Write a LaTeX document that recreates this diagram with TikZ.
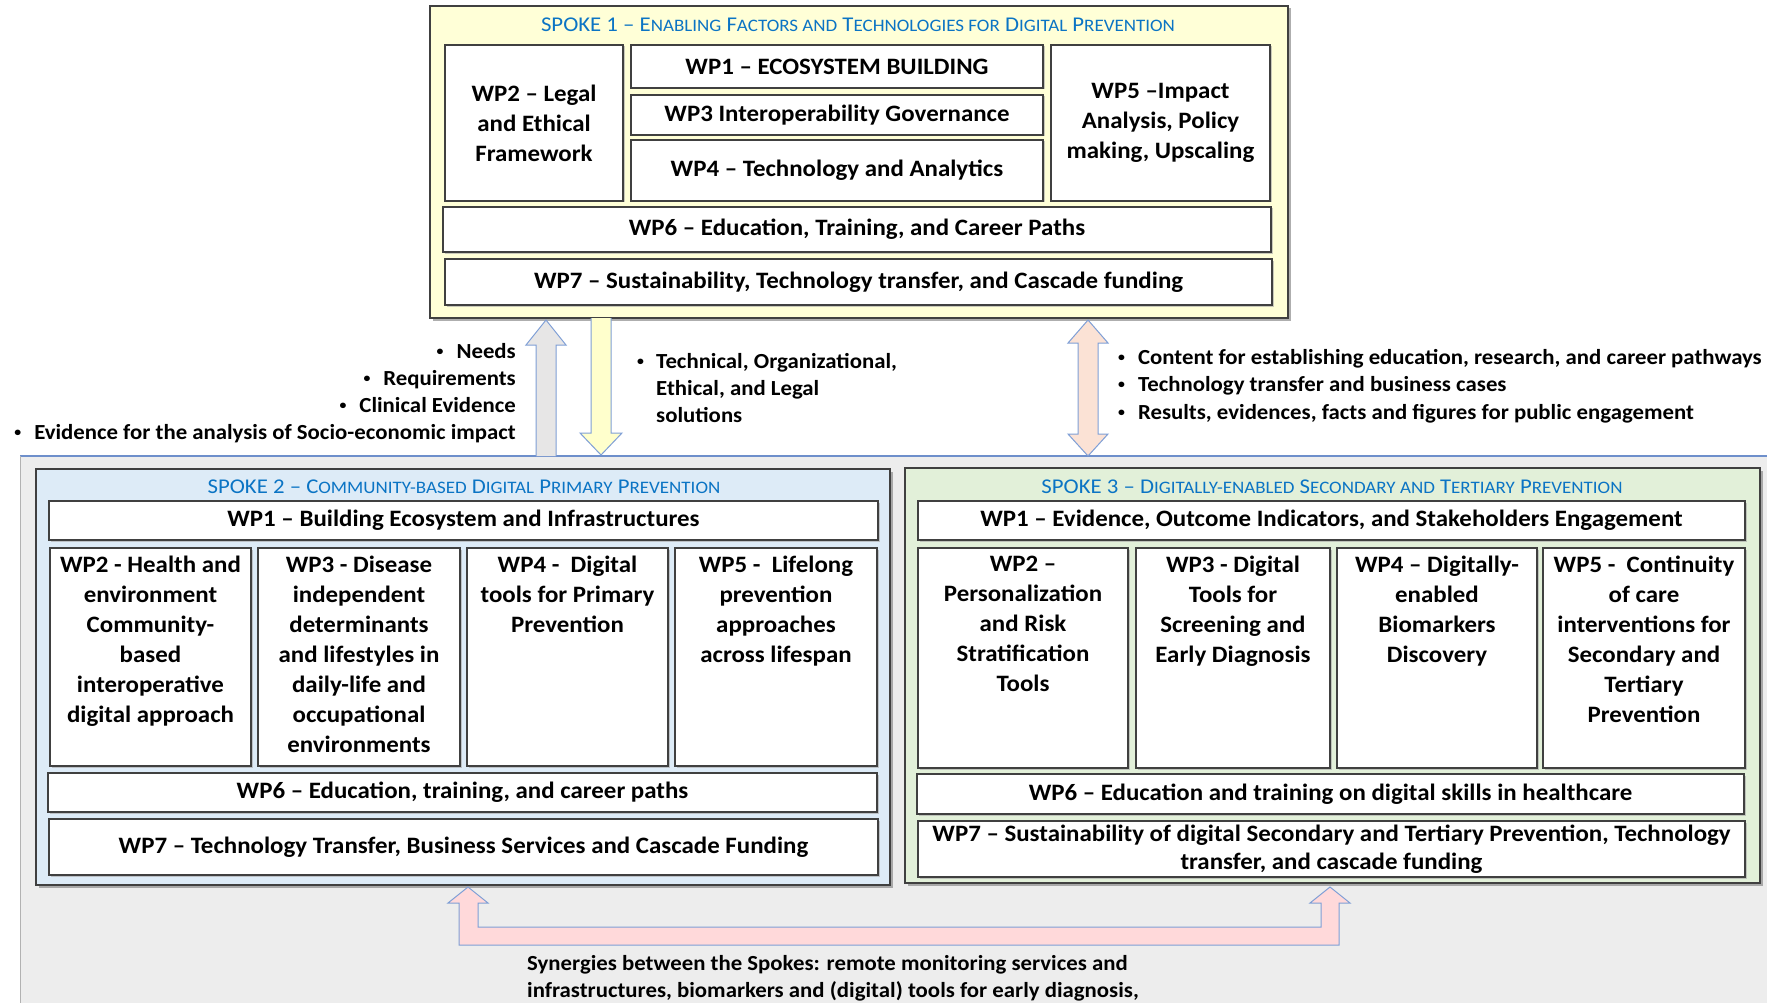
\documentclass[tikz,border=0pt]{standalone}
\usepackage{fontspec}
\setmainfont{Carlito}[FakeStretch=1.06]
\newfontfamily\ttlfam{Carlito}[FakeStretch=1.085]
\usetikzlibrary{shadows}
\definecolor{spokeA}{HTML}{FFFFD7}
\definecolor{spokeB}{HTML}{DDEBF7}
\definecolor{spokeC}{HTML}{E2F0D9}
\definecolor{bgray}{HTML}{EDEDED}
\definecolor{ttl}{HTML}{0B74C4}
\definecolor{edge}{HTML}{404040}
\definecolor{arrline}{HTML}{7F9FD6}
\definecolor{agray}{HTML}{E7E6E6}
\definecolor{ayel}{HTML}{FFFFCC}
\definecolor{apeach}{HTML}{FBE2D5}
\definecolor{apink}{HTML}{FFD9DA}
\definecolor{topline}{HTML}{6E8FCB}

\newcommand{\sk}[1]{{\fontsize{17.5}{17.5}\selectfont\MakeUppercase{#1}}}
\newcommand{\bu}{\raisebox{2.5pt}{\fontsize{13}{13}\selectfont •}}
\newcommand{\wpb}[6]{\node[wp, minimum width={(#4)-(#2)}, minimum height={(#5)-(#3)}] (#1) at ({((#2)+(#4))/2},{((#3)+(#5))/2}) {#6};}
\newcommand{\wpt}[6]{\node[wp, minimum width={(#4)-(#2)}, minimum height={(#5)-(#3)}] (#1) at ({((#2)+(#4))/2},{((#3)+(#5))/2}) {};
  \node[wptxt, anchor=north] (#1t) at ([yshift=-8pt]#1.north) {#6};}

\tikzset{
 spoke/.style={draw=edge, line width=1.3pt, inner sep=0pt, outer sep=0pt, drop shadow={shadow xshift=2.5pt, shadow yshift=-2.5pt, fill=black!45, opacity=0.7}},
 wp/.style={draw=edge, fill=white, line width=1.2pt, inner sep=0pt, outer sep=0pt, drop shadow={shadow xshift=1.5pt, shadow yshift=-1.5pt, fill=black!35, opacity=0.6}, font=\fontsize{23.5}{30}\selectfont\bfseries, align=center},
 wptxt/.style={font=\fontsize{23.5}{30}\selectfont\bfseries, align=center, inner sep=0pt},
 bul/.style={font=\fontsize{21.5}{27.5}\selectfont\bfseries, inner sep=0pt},
 ttlfont/.style={font=\ttlfam\fontsize{21}{21}\selectfont, text=ttl, inner sep=0pt},
 blockarrow/.style={draw=arrline, line width=1pt, line join=miter},
}

\begin{document}
\begin{tikzpicture}[x=1pt,y=-1pt]
\useasboundingbox[fill=white] (0,0) rectangle (1767,1003);

% background region
\fill[bgray] (20,456) rectangle (1767,1003);
\draw[topline, line width=1.2pt] (20,456) -- (1767,456);
\draw[black!30, line width=1pt] (20,456) -- (20,1003);

% ---------- SPOKE 1 ----------
\node[spoke, fill=spokeA, minimum width=858, minimum height=312] (s1) at (859,162) {};
\node[ttlfont] (s1title) at (858,25) {SPOKE 1 – E\sk{nabling} F\sk{actors and} T\sk{echnologies for} D\sk{igital} P\sk{revention}};
\wpb{s1wp2}{445}{45}{623}{201}{WP2 – Legal\\and Ethical\\Framework}
\wpb{s1wp1}{631}{45}{1043}{88}{WP1 – ECOSYSTEM BUILDING}
\wpb{s1wp3}{631}{95}{1043}{135}{WP3 Interoperability Governance}
\wpb{s1wp4}{631}{140}{1043}{201}{WP4 – Technology and Analytics}
\wpb{s1wp5}{1051}{45}{1270}{201}{WP5 –Impact\\Analysis, Policy\\making, Upscaling}
\wpb{s1wp6}{443}{207}{1271}{252}{WP6 – Education, Training, and Career Paths}
\wpb{s1wp7}{445}{259}{1272}{305}{WP7 – Sustainability, Technology transfer, and Cascade funding}

% ---------- SPOKE 2 ----------
\node[spoke, fill=spokeB, minimum width=854, minimum height=416] (s2) at (463,677) {};
\node[ttlfont] (s2title) at (464,487) {SPOKE 2 – C\sk{ommunity-based} D\sk{igital} P\sk{rimary} P\sk{revention}};
\wpb{s2wp1}{49}{501}{878}{540}{WP1 – Building Ecosystem and Infrastructures}
\wpt{s2wp2}{50}{548}{251}{766}{WP2 - Health and\\environment\\Community-\\based\\interoperative\\digital approach}
\wpt{s2wp3}{258}{548}{460}{766}{WP3 - Disease\\independent\\determinants\\and lifestyles in\\daily-life and\\occupational\\environments}
\wpt{s2wp4}{467}{548}{668}{766}{WP4 -\ \ Digital\\tools for Primary\\Prevention}
\wpt{s2wp5}{675}{548}{877}{766}{WP5 -\ \ Lifelong\\prevention\\approaches\\across lifespan}
\wpb{s2wp6}{48}{773}{877}{812}{WP6 – Education, training, and career paths}
\wpb{s2wp7}{49}{819}{878}{875}{WP7 – Technology Transfer, Business Services and Cascade Funding}

% ---------- SPOKE 3 ----------
\node[spoke, fill=spokeC, minimum width=855, minimum height=415] (s3) at (1332.5,675.5) {};
\node[ttlfont] (s3title) at (1332,487) {SPOKE 3 – D\sk{igitally-enabled} S\sk{econdary and} T\sk{ertiary} P\sk{revention}};
\wpb{s3wp1}{918}{501}{1745}{540}{WP1 – Evidence, Outcome Indicators, and Stakeholders Engagement}
\wpt{s3wp2}{918}{548}{1128}{768}{WP2 –\\Personalization\\and Risk\\Stratification\\Tools}
\wpt{s3wp3}{1136}{548}{1330}{768}{WP3 - Digital\\Tools for\\Screening and\\Early Diagnosis}
\wpt{s3wp4}{1337}{548}{1537}{768}{WP4 – Digitally-\\enabled\\Biomarkers\\Discovery}
\wpt{s3wp5}{1543}{548}{1745}{768}{WP5 -\ \ Continuity\\of care\\interventions for\\Secondary and\\Tertiary\\Prevention}
\wpb{s3wp6}{917}{774}{1744}{814}{WP6 – Education and training on digital skills in healthcare}
\node[wp, minimum width=827, minimum height=56, font=\fontsize{23.5}{28}\selectfont\bfseries] (s3wp7) at (1331.5,849) {WP7 – Sustainability of digital Secondary and Tertiary Prevention, Technology\\transfer, and cascade funding};

% ---------- block arrows ----------
\fill[agray] (536,456) -- (536,345) -- (526,345) -- (546,320) -- (566,345) -- (556,345) -- (556,456) -- cycle;
\draw[blockarrow] (536,456) -- (536,345) -- (526,345) -- (546,320) -- (566,345) -- (556,345) -- (556,456);
\draw[blockarrow, fill=ayel] (591,318) -- (591,433) -- (580,433) -- (601,455) -- (622,433) -- (611,433) -- (611,318);
\draw[blockarrow, fill=apeach] (1078,343) -- (1068,343) -- (1088,320) -- (1108,343) -- (1098,343) -- (1098,434) -- (1108,434) -- (1088,456) -- (1068,434) -- (1078,434) -- cycle;
\draw[blockarrow, fill=apink] (468,887) -- (488,903) -- (478,903) -- (478,927) -- (1321,927) -- (1321,903) -- (1310,903) -- (1330,887) -- (1350,903) -- (1339,903) -- (1339,945) -- (459,945) -- (459,903) -- (448,903) -- cycle;

% ---------- bullet texts ----------
\node[bul, anchor=base east] (n1) at (516,358) {\bu\hspace{13pt}Needs};
\node[bul, anchor=base east] (n2) at (516,385) {\bu\hspace{13pt}Requirements};
\node[bul, anchor=base east] (n3) at (516,412) {\bu\hspace{13pt}Clinical Evidence};
\node[bul, anchor=base east] (n4) at (516,439) {\bu\hspace{13pt}Evidence for the analysis of Socio-economic impact};

\node[bul, anchor=base west] (m0) at (637,368) {\bu};
\node[bul, anchor=base west] (m1) at (656,368) {Technical, Organizational,};
\node[bul, anchor=base west] (m2) at (656,395) {Ethical, and Legal};
\node[bul, anchor=base west] (m3) at (656,422) {solutions};

\node[bul, anchor=base west] (r1) at (1118,364) {\bu\hspace{13pt}Content for establishing education, research, and career pathways};
\node[bul, anchor=base west] (r2) at (1118,391) {\bu\hspace{13pt}Technology transfer and business cases};
\node[bul, anchor=base west] (r3) at (1118,419) {\bu\hspace{13pt}Results, evidences, facts and figures for public engagement};

\node[bul, anchor=base west] (y1) at (527,970) {Synergies between the Spokes: remote monitoring services and};
\node[bul, anchor=base west] (y2) at (527,997) {infrastructures, biomarkers and (digital) tools for early diagnosis,};
\end{tikzpicture}
\end{document}
